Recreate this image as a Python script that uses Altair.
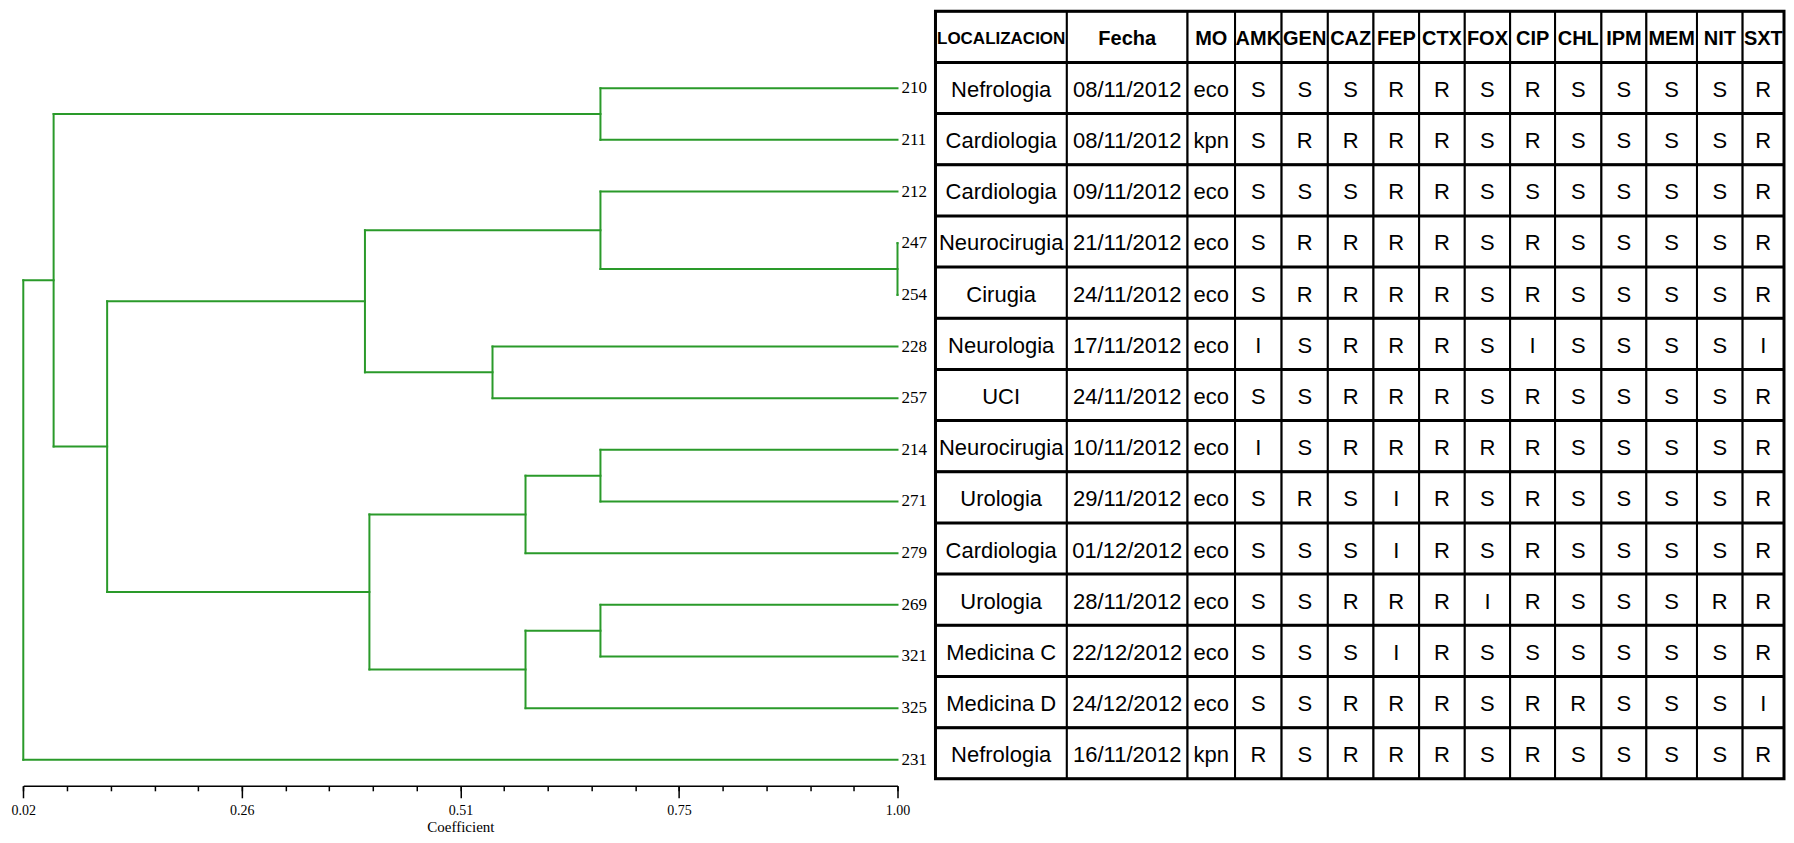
import altair as alt
import pandas as pd

# ---------------- data ----------------
leaf_ids = ["210", "211", "212", "247", "254", "228", "257",
            "214", "271", "279", "269", "321", "325", "231"]
# merges: strings are leaves, ints refer to earlier merges
merge_a = ["247", "212", "210", "228", 1, "214", 5, "269", 7, 6, 4, 2, 11]
merge_b = ["254", 0, "211", "257", 3, "271", "279", "321", "325", 8, 9, 10, "231"]
merge_coef = [1.00, 0.667, 0.667, 0.546, 0.403, 0.667, 0.583, 0.667, 0.583,
              0.408, 0.114, 0.054, 0.02]

axis_tick_labels = ["0.02", "0.26", "0.51", "0.75", "1.00"]

headers = ["LOCALIZACION", "Fecha", "MO", "AMK", "GEN", "CAZ", "FEP", "CTX",
           "FOX", "CIP", "CHL", "IPM", "MEM", "NIT", "SXT"]
localizacion = ["Nefrologia", "Cardiologia", "Cardiologia", "Neurocirugia", "Cirugia",
                "Neurologia", "UCI", "Neurocirugia", "Urologia", "Cardiologia",
                "Urologia", "Medicina C", "Medicina D", "Nefrologia"]
fecha = ["08/11/2012", "08/11/2012", "09/11/2012", "21/11/2012", "24/11/2012",
         "17/11/2012", "24/11/2012", "10/11/2012", "29/11/2012", "01/12/2012",
         "28/11/2012", "22/12/2012", "24/12/2012", "16/11/2012"]
mo = ["eco", "kpn", "eco", "eco", "eco", "eco", "eco", "eco", "eco", "eco",
      "eco", "eco", "eco", "kpn"]
resist = [
    "S S S R R S R S S S S R",
    "S R R R R S R S S S S R",
    "S S S R R S S S S S S R",
    "S R R R R S R S S S S R",
    "S R R R R S R S S S S R",
    "I S R R R S I S S S S I",
    "S S R R R S R S S S S R",
    "I S R R R R R S S S S R",
    "S R S I R S R S S S S R",
    "S S S I R S R S S S S R",
    "S S R R R I R S S S R R",
    "S S S I R S S S S S S R",
    "S S R R R S R R S S S I",
    "R S R R R S R S S S S R",
]

# ---------------- layout constants ----------------
col_widths = [132.4, 121.6, 47.9, 46.9, 46.6, 46.0, 46.0, 46.0, 45.7, 45.3,
              46.7, 45.3, 51.0, 46.0, 41.7]
GREEN = "#2a9a2a"
TABLE_FONT = "Liberation Sans, Arial, sans-serif"
SERIF = "Liberation Serif, Times New Roman, serif"

# ---------------- dendrogram segments ----------------
nodes = {}


def locate(ref):
    if isinstance(ref, int):
        return nodes[ref]
    return (leaf_ids.index(ref), 1.0)


segs = []
for k, (a, b, c) in enumerate(zip(merge_a, merge_b, merge_coef)):
    ya, xa = locate(a)
    yb, xb = locate(b)
    segs.append({"x": xa, "x2": c, "y": ya, "y2": ya})
    segs.append({"x": xb, "x2": c, "y": yb, "y2": yb})
    segs.append({"x": c, "x2": c, "y": ya, "y2": yb})
    nodes[k] = ((ya + yb) / 2, c)
seg_df = pd.DataFrame(segs)
leaf_df = pd.DataFrame({"leaf": leaf_ids, "idx": list(range(len(leaf_ids))),
                        "coef": [1.0] * len(leaf_ids)})

x_d = alt.Scale(domain=[0.02, 1.0], range=[15.3, 890])
y_d = alt.Scale(domain=[0, len(leaf_ids) - 1], range=[80, 752])

step = (1.0 - 0.02) / 20
minor_vals = [0.02 + k * step for k in range(21)]
major_vals = [0.02 + k * 5 * step for k in range(5)]
idx_expr = f"round((datum.value - 0.02) / {5 * step})"
label_expr = f"{axis_tick_labels}[{idx_expr}]"

dendro_lines = alt.Chart(seg_df).mark_rule(
    color=GREEN, strokeWidth=2, strokeCap="square"
).encode(
    x=alt.X("x:Q", scale=x_d, axis=alt.Axis(
        values=major_vals, orient="bottom", grid=False,
        domainColor="black", domainWidth=1.5,
        tickColor="black", tickWidth=1.5, tickSize=12,
        labelExpr=label_expr, labelFont=SERIF, labelFontSize=14,
        labelColor="black", labelPadding=6, labelFlush=False, labelOverlap=False,
        title="Coefficient", titleFont=SERIF, titleFontSize=15,
        titleFontWeight="normal", titleColor="black", titlePadding=2)),
    x2="x2:Q",
    y=alt.Y("y:Q", scale=y_d, axis=None),
    y2="y2:Q",
)

leaf_labels = alt.Chart(leaf_df).mark_text(
    align="left", baseline="middle", dx=4, font=SERIF, fontSize=17, color="black"
).encode(
    x=alt.X("coef:Q", scale=x_d, axis=alt.Axis(
        values=minor_vals, orient="bottom", grid=False, domain=False,
        tickColor="black", tickWidth=1.5, tickSize=5,
        labels=False, title=None)),
    y=alt.Y("idx:Q", scale=y_d, axis=None),
    text="leaf:N",
)

dendro = alt.layer(dendro_lines, leaf_labels).resolve_axis(x="independent")

# ---------------- table ----------------
lefts = []
acc = 0.0
for w in col_widths:
    lefts.append(acc)
    acc += w
total_w = acc
n_rows = len(localizacion) + 1

cells = []
for c, h in enumerate(headers):
    cells.append({"row": 0, "col": h, "text": h, "header": True,
                  "left": lefts[c], "right": lefts[c] + col_widths[c]})
for r in range(len(localizacion)):
    vals = [localizacion[r], fecha[r], mo[r]] + resist[r].split()
    for c, v in enumerate(vals):
        cells.append({"row": r + 1, "col": headers[c], "text": v, "header": False,
                      "left": lefts[c], "right": lefts[c] + col_widths[c]})
cell_df = pd.DataFrame(cells)
cell_df["row2"] = cell_df["row"] + 1
cell_df["mid"] = (cell_df["left"] + cell_df["right"]) / 2
cell_df["rowmid"] = cell_df["row"] + 0.5

x_t = alt.Scale(domain=[0, total_w], range=[928, 1777])
y_t = alt.Scale(domain=[0, n_rows], range=[3, 771])

base_t = alt.Chart(cell_df)
cell_rects = base_t.mark_rect(fill="white", stroke="black", strokeWidth=2).encode(
    x=alt.X("left:Q", scale=x_t, axis=None), x2="right:Q",
    y=alt.Y("row:Q", scale=y_t, axis=None), y2="row2:Q",
)
row_lines_df = pd.DataFrame({"b": list(range(1, n_rows)),
                             "l": [0.0] * (n_rows - 1),
                             "r": [total_w] * (n_rows - 1)})
row_lines = alt.Chart(row_lines_df).mark_rule(color="black", strokeWidth=3).encode(
    x=alt.X("l:Q", scale=x_t, axis=None), x2="r:Q",
    y=alt.Y("b:Q", scale=y_t, axis=None),
)
header_text = base_t.transform_filter("datum.header").mark_text(
    font=TABLE_FONT, fontWeight="bold", baseline="middle", dy=2, color="black"
).encode(
    x=alt.X("mid:Q", scale=x_t, axis=None),
    y=alt.Y("rowmid:Q", scale=y_t, axis=None),
    text="text:N",
    size=alt.condition(alt.datum.col == "LOCALIZACION", alt.value(17), alt.value(20)),
)
body_text = base_t.transform_filter("!datum.header").mark_text(
    font=TABLE_FONT, fontSize=22, baseline="middle", dy=2, color="black"
).encode(
    x=alt.X("mid:Q", scale=x_t, axis=None),
    y=alt.Y("rowmid:Q", scale=y_t, axis=None),
    text="text:N",
)
outer_df = pd.DataFrame({"l": [0.0], "r": [total_w], "t": [0], "b": [n_rows]})
outer = alt.Chart(outer_df).mark_rect(fill=None, stroke="black", strokeWidth=3).encode(
    x=alt.X("l:Q", scale=x_t, axis=None), x2="r:Q",
    y=alt.Y("t:Q", scale=y_t, axis=None), y2="b:Q",
)

table = alt.layer(cell_rects, row_lines, header_text, body_text, outer)

chart = alt.layer(dendro, table).resolve_scale(
    x="independent", y="independent"
).properties(
    width=1778, height=778, padding=0, background="white"
).configure_view(strokeWidth=0)

chart.save("out.html", embed_options={"renderer": "svg", "actions": False})
